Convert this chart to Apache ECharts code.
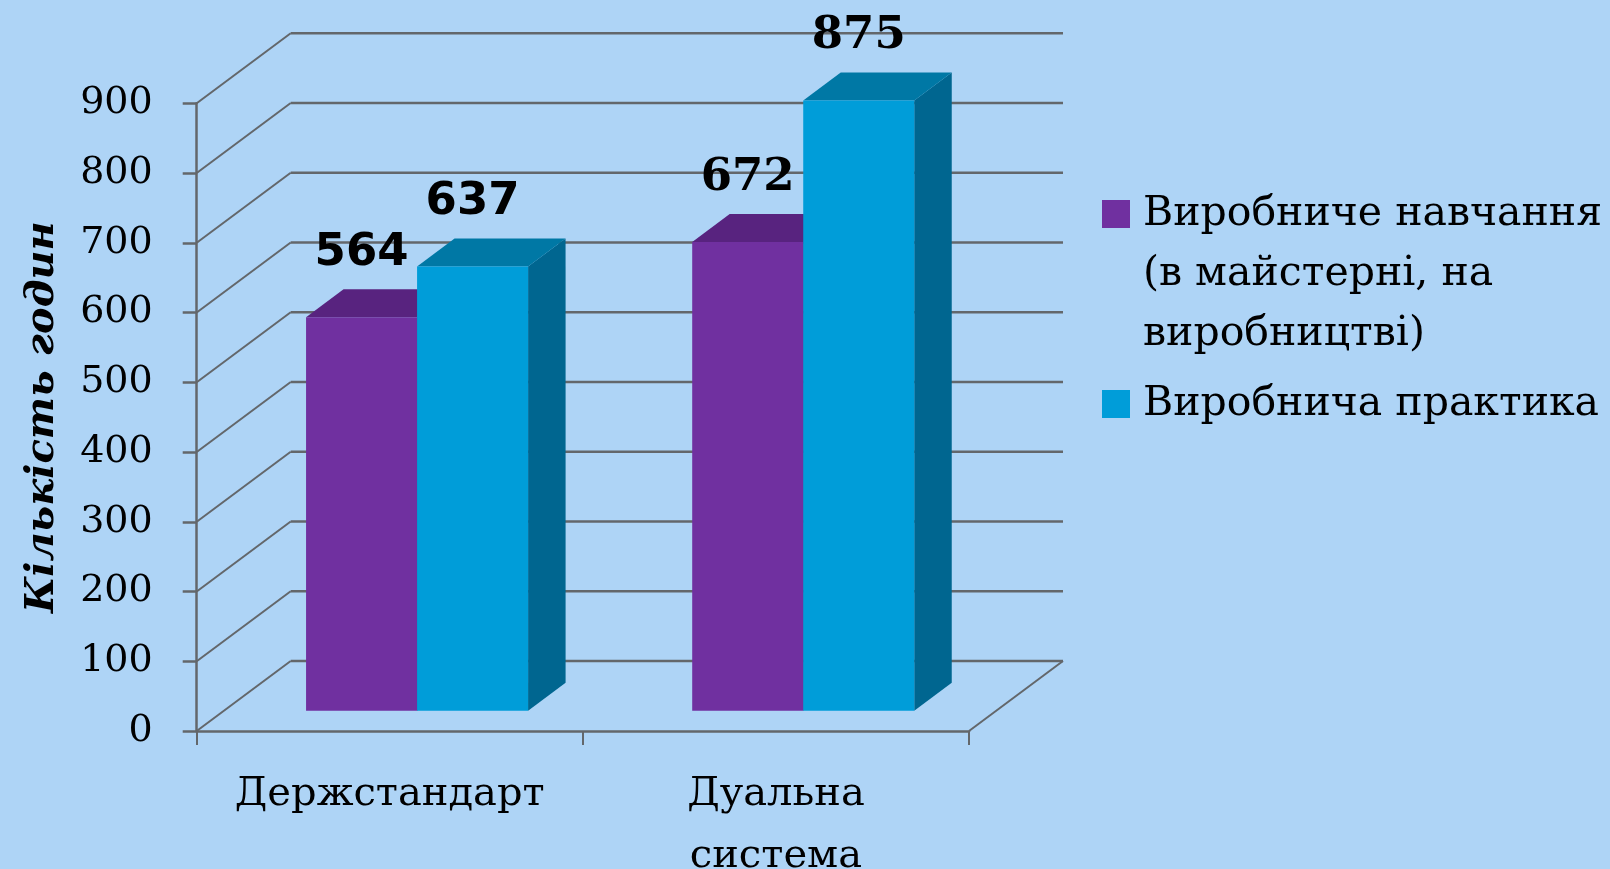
<!DOCTYPE html>
<html><head><meta charset="utf-8">
<script src="https://cdn.jsdelivr.net/npm/echarts@6/dist/echarts.min.js"></script>
<style>html,body{margin:0;padding:0;background:#aed4f6}#chart{width:1610px;height:869px}</style>
</head><body><div id="chart"></div>
<script>
const categories = ['Держстандарт', 'Дуальна\nсистема'];
const seriesNames = ['Виробниче навчання\n(в майстерні, на\nвиробництві)', 'Виробнича практика'];
const trainingValues = [564, 672];
const practiceValues = [637, 875];
const yTicks = [0, 100, 200, 300, 400, 500, 600, 700, 800, 900];

const WALL_DX = 94, WALL_DY = -70;
const FRONT_DX = 27.3, FRONT_DY = -20.3;
const SIDE_DX = 37.5, SIDE_DY = -28;
const BAR_FRAC = 0.2875;
const GRID_COLOR = '#63676b';
const faceColors = [
  {front: '#7030a0', top: '#58237f', side: '#4b1e6c'},
  {front: '#009dd9', top: '#0078a5', side: '#006690'}
];
const labelFonts = ['DejaVu Sans', 'DejaVu Serif'];

function wallItem(params, api) {
  const v = api.value(1);
  const p = api.coord([0, v]);
  const band = api.size([1, 0])[0];
  const left = p[0] - band / 2;
  const right = left + band * categories.length;
  const y = p[1];
  const children = [
    {type: 'line', shape: {x1: left, y1: y, x2: left + WALL_DX, y2: y + WALL_DY},
      style: {stroke: GRID_COLOR, lineWidth: 2}},
    {type: 'line', shape: {x1: left + WALL_DX, y1: y + WALL_DY, x2: right + WALL_DX, y2: y + WALL_DY},
      style: {stroke: GRID_COLOR, lineWidth: 2.5}}
  ];
  if (params.dataIndex === 0) {
    children.push({type: 'line', shape: {x1: right, y1: y, x2: right + WALL_DX, y2: y + WALL_DY},
      style: {stroke: GRID_COLOR, lineWidth: 2}});
  }
  return {type: 'group', children};
}

function barItem(params, api) {
  const s = params.seriesIndex - 1;
  const cat = api.value(0), val = api.value(1);
  const band = api.size([1, 0])[0];
  const base = api.coord([cat, 0]);
  const top = api.coord([cat, val]);
  const bw = band * BAR_FRAC;
  const cx = base[0] + FRONT_DX;
  const x0 = cx + (s - 1) * bw, x1 = x0 + bw;
  const yb = base[1] + FRONT_DY, yt = top[1] + FRONT_DY;
  const c = faceColors[s];
  return {type: 'group', children: [
    {type: 'polygon', shape: {points: [[x1, yt], [x1 + SIDE_DX, yt + SIDE_DY], [x1 + SIDE_DX, yb + SIDE_DY], [x1, yb]]}, style: {fill: c.side}},
    {type: 'polygon', shape: {points: [[x0, yt], [x1, yt], [x1 + SIDE_DX, yt + SIDE_DY], [x0 + SIDE_DX, yt + SIDE_DY]]}, style: {fill: c.top}},
    {type: 'rect', shape: {x: x0, y: yt, width: bw, height: yb - yt}, style: {fill: c.front}},
    {type: 'text', z2: 100, style: {text: String(val), x: (x0 + x1) / 2, y: yt - 64, align: 'center', verticalAlign: 'middle',
      font: 'bold 45px "' + labelFonts[cat] + '"', fill: '#000'}}
  ]};
}

const chart = echarts.init(document.getElementById('chart'), null, {renderer: 'canvas'});
chart.setOption({
  backgroundColor: '#aed4f6',
  animation: false,
  grid: {left: 196.7, top: 103.3, width: 772.3, bottom: 138, containLabel: false, outerBoundsMode: 'none'},
  legend: [
    {data: [seriesNames[0]], left: 1102, top: 184, padding: 0, selectedMode: false,
      icon: 'path://M0,0L0,0M0,16L28,16L28,44L0,44ZM0,180L0,180', itemWidth: 28, itemHeight: 180,
      textStyle: {fontFamily: 'DejaVu Serif', fontSize: 41, color: '#000', lineHeight: 60, padding: [0, 0, 0, 8]}},
    {data: [seriesNames[1]], left: 1102, top: 374, icon: 'rect', itemWidth: 28, itemHeight: 28, padding: 0, selectedMode: false,
      textStyle: {fontFamily: 'DejaVu Serif', fontSize: 41, color: '#000', lineHeight: 60, padding: [0, 0, 0, 8]}}
  ],
  xAxis: {
    type: 'category', data: categories, boundaryGap: true,
    axisLine: {show: true, lineStyle: {color: GRID_COLOR, width: 2.5}},
    axisTick: {show: true, interval: 0, length: 14, lineStyle: {color: GRID_COLOR, width: 2}},
    axisLabel: {interval: 0, fontFamily: 'DejaVu Serif', fontSize: 40, color: '#000', lineHeight: 62, margin: 33}
  },
  yAxis: {
    type: 'value', min: 0, max: 900, interval: 100,
    name: 'Кількість годин', nameLocation: 'middle', nameGap: 134, nameRotate: 90,
    nameTextStyle: {fontFamily: 'DejaVu Serif', fontStyle: 'italic', fontWeight: 'bold', fontSize: 40, color: '#000'},
    axisLine: {show: true, lineStyle: {color: GRID_COLOR, width: 2.5}},
    axisTick: {show: true, length: 14, lineStyle: {color: GRID_COLOR, width: 2.5}},
    splitLine: {show: false},
    axisLabel: {fontFamily: 'DejaVu Serif', fontSize: 38, color: '#000', margin: 44, padding: [10, 0, 0, 0]}
  },
  series: [
    {type: 'custom', name: 'walls', renderItem: wallItem, data: yTicks.map(v => [0, v]), silent: true},
    {type: 'custom', name: seriesNames[0], renderItem: barItem, itemStyle: {color: faceColors[0].front},
      data: trainingValues.map((v, i) => [i, v])},
    {type: 'custom', name: seriesNames[1], renderItem: barItem, itemStyle: {color: faceColors[1].front},
      data: practiceValues.map((v, i) => [i, v])}
  ]
});
</script></body></html>
